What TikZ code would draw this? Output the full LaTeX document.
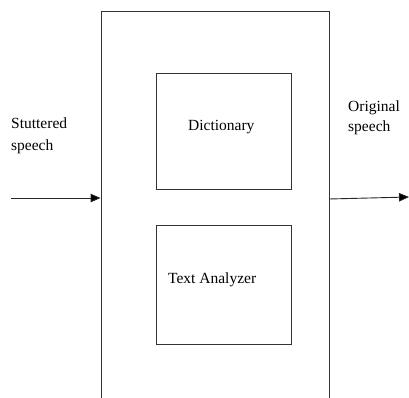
\documentclass[tikz,border=0pt]{standalone}
\usepackage{fontspec}
\setmainfont{Liberation Serif}
\usetikzlibrary{arrows.meta}
\begin{document}
\begin{tikzpicture}[x=1pt,y=-1pt,
  box/.style={draw=black!80,line width=0.9pt,rectangle,inner sep=0pt},
  lbl/.style={anchor=base west,inner sep=0pt,font=\fontsize{15.5}{21}\selectfont,align=left},
  arr/.style={draw=black!85,line width=0.9pt,-{Triangle[length=10pt,width=8.5pt,fill=black]}}]
\useasboundingbox (0,0) rectangle (409,398);
\clip (0,0) rectangle (409,398);
\node[box,minimum width=228pt,minimum height=400pt] (outer) at (215,211) {};
\node[box,minimum width=135pt,minimum height=116pt] (dict) at (223.5,131) {};
\node[box,minimum width=135pt,minimum height=119pt] (ta) at (223.5,284.5) {};
\node[lbl] (dictt) at (188,131) {Dictionary};
\node[lbl] (tat) at (168,283) {Text Analyzer};
\node[lbl] (st1) at (11,129) {Stuttered};
\node[lbl] (st2) at (11,150) {speech};
\node[lbl] (or1) at (348,112) {Original};
\node[lbl] (or2) at (348,132) {speech};
\coordinate (in) at (11,198);
\coordinate (o1) at (329,199);
\coordinate (o2) at (409,197);
\draw[arr] (in) -- (in -| outer.west);
\draw[arr] (o1) -- (o2);
\end{tikzpicture}
\end{document}
